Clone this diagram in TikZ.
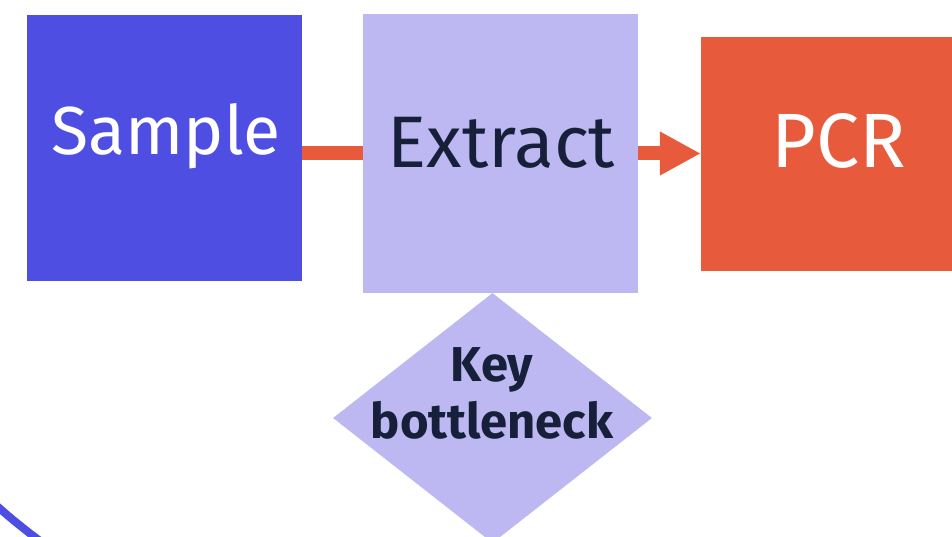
\documentclass[tikz,border=0pt]{standalone}
\usepackage{fontspec}
\setmainfont{Fira Sans}
\usetikzlibrary{shapes.geometric,arrows.meta}
\definecolor{sampblue}{HTML}{4E4EE3}
\definecolor{lavender}{HTML}{BDB8F2}
\definecolor{pcrorange}{HTML}{E85A3C}
\definecolor{inkdark}{HTML}{17203A}

\begin{document}
\begin{tikzpicture}[x=1pt,y=-1pt,
  stepbox/.style={rectangle,inner sep=0},
  boxtext/.style={anchor=base,inner sep=0},
  flow/.style={draw=pcrorange,line width=14}]
\clip (0,0) rectangle (952,537);
\useasboundingbox (0,0) rectangle (952,537);
\draw[sampblue,line width=8] (396,58) ++(133:600) arc[start angle=133,end angle=124,radius=600];
\node[stepbox,fill=sampblue,minimum width=275,minimum height=266] (sample) at (164.5,148) {};
\node[stepbox,fill=lavender,minimum width=275,minimum height=279] (extract) at (500.5,153.5) {};
\node[stepbox,fill=pcrorange,minimum width=276,minimum height=234] (pcr) at (839,154) {};
\draw[flow] (sample.east |- extract.west) -- (extract.west);
\draw[flow,-{Triangle[length=41pt,width=41pt]}] (extract.east) -- (extract.east -| pcr.west);
\node[boxtext,text=white,font=\fontsize{68}{76}\selectfont] (sampletext) at (166,155) {Sample};
\node[boxtext,text=inkdark,font=\fontsize{73}{80}\selectfont] (extracttext) at (501.5,168) {Extract};
\node[boxtext,text=white,font=\fontsize{77}{84}\selectfont] (pcrtext) at (839,168) {PCR};
\node[diamond,fill=lavender,inner sep=0,minimum width=319,minimum height=250] (key) at (492.5,418) {};
\node[text=inkdark,align=center,inner sep=0,font=\bfseries\fontsize{49}{57}\selectfont] (keytext) at (492,393) {Key\\bottleneck};
\end{tikzpicture}
\end{document}
